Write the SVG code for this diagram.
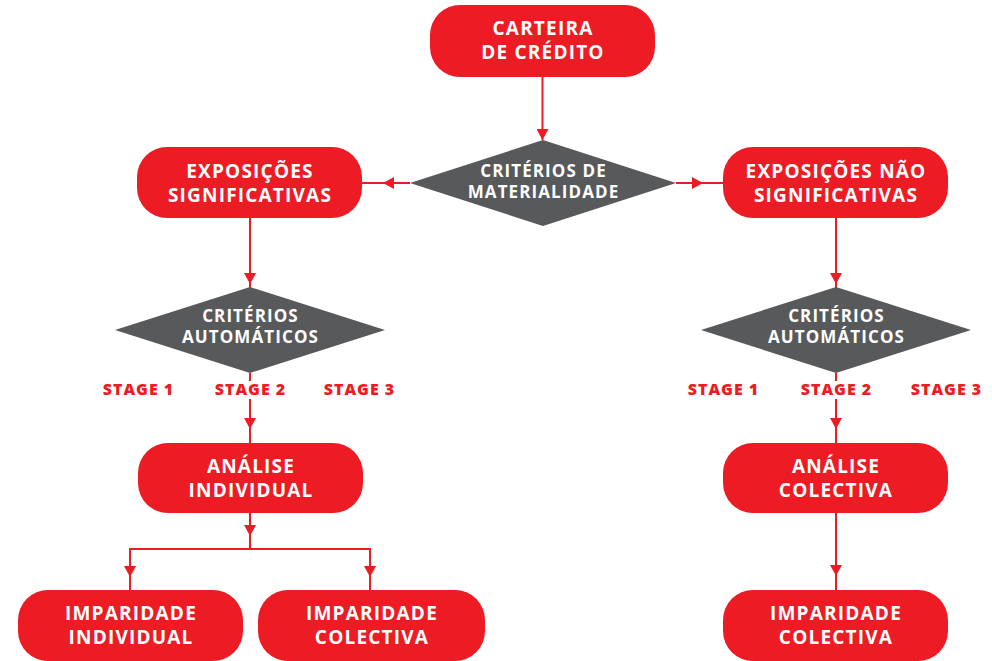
<svg xmlns="http://www.w3.org/2000/svg" width="992" height="661" viewBox="0 0 992 661">
<defs>
<style>
.box{fill:#ED1C24}
.dia{fill:#58595B}
.t{font-family:"Open Sans","Liberation Sans",sans-serif;font-weight:700;font-size:19px;letter-spacing:1.2px;fill:#fff;text-anchor:middle}
.td{font-family:"Open Sans","Liberation Sans",sans-serif;font-weight:700;font-size:17px;letter-spacing:1.1px;fill:#fff;text-anchor:middle}
.st{font-family:"Open Sans","Liberation Sans",sans-serif;font-weight:800;font-size:16px;letter-spacing:1px;fill:#ED1C24;text-anchor:middle}
.c{fill:none;stroke:#ED1C24;stroke-width:2}
.a{marker-mid:url(#ah)}
.e{marker-end:url(#ah)}
</style>
<marker id="ah" viewBox="0 0 11 12" refX="11" refY="6" markerWidth="11" markerHeight="12" markerUnits="userSpaceOnUse" orient="auto">
<path d="M0,0 L11,6 L0,12 z" fill="#ED1C24"/>
</marker>
</defs>
<rect width="992" height="661" fill="#fff"/>
<g id="connectors">
<path class="c e" d="M542.5,77 L542.5,140"/>
<path class="c a" d="M410,183 L383,183 L362,183"/>
<path class="c a" d="M676,183 L703,183 L723,183"/>
<path class="c a" d="M250,218 L250,284 L250,288"/>
<path class="c a" d="M836,218 L836,284 L836,288"/>
<path class="c" d="M250,373 V381"/>
<path class="c a" d="M250,399 L250,429 L250,443"/>
<path class="c" d="M836,373 V381"/>
<path class="c a" d="M836,399 L836,429 L836,443"/>
<path class="c a" d="M250,513 L250,536 L250,549"/>
<path class="c" d="M130,549 H370"/>
<path class="c a" d="M130,548 L130,577 L130,590"/>
<path class="c a" d="M370,548 L370,577 L370,590"/>
<path class="c a" d="M836,513 L836,576 L836,590"/>
</g>
<g id="carteira">
<rect class="box" x="430" y="5" width="225" height="72" rx="30"/>
<text class="t" x="543" y="35">CARTEIRA</text>
<text class="t" x="543" y="59">DE CRÉDITO</text>
</g>
<g id="materialidade">
<polygon class="dia" points="543,140 676,183 543,226 410,183"/>
<text class="td" x="543.5" y="177">CRITÉRIOS DE</text>
<text class="td" x="543.5" y="198">MATERIALIDADE</text>
</g>
<g id="exp-sig">
<rect class="box" x="137" y="147" width="225" height="71" rx="30"/>
<text class="t" x="250" y="178">EXPOSIÇÕES</text>
<text class="t" x="250" y="202">SIGNIFICATIVAS</text>
</g>
<g id="exp-nao-sig">
<rect class="box" x="723" y="147" width="225" height="71" rx="30"/>
<text class="t" x="836" y="178">EXPOSIÇÕES NÃO</text>
<text class="t" x="836" y="202">SIGNIFICATIVAS</text>
</g>
<g id="auto-left">
<polygon class="dia" points="250,287 385,330 250,373 115,330"/>
<text class="td" x="250.5" y="322">CRITÉRIOS</text>
<text class="td" x="250.5" y="343">AUTOMÁTICOS</text>
</g>
<g id="auto-right">
<polygon class="dia" points="836,287 971,330 836,373 701,330"/>
<text class="td" x="836.5" y="322">CRITÉRIOS</text>
<text class="td" x="836.5" y="343">AUTOMÁTICOS</text>
</g>
<g id="stages-left">
<text class="st" x="138.5" y="395">STAGE 1</text>
<text class="st" x="250.5" y="395">STAGE 2</text>
<text class="st" x="359.5" y="395">STAGE 3</text>
</g>
<g id="stages-right">
<text class="st" x="723.5" y="395">STAGE 1</text>
<text class="st" x="836.5" y="395">STAGE 2</text>
<text class="st" x="946.5" y="395">STAGE 3</text>
</g>
<g id="analise-individual">
<rect class="box" x="138" y="443" width="225" height="70" rx="30"/>
<text class="t" x="251" y="473">ANÁLISE</text>
<text class="t" x="251" y="497">INDIVIDUAL</text>
</g>
<g id="analise-colectiva">
<rect class="box" x="723" y="443" width="225" height="70" rx="30"/>
<text class="t" x="836" y="473">ANÁLISE</text>
<text class="t" x="836" y="497">COLECTIVA</text>
</g>
<g id="imparidade-individual">
<rect class="box" x="18" y="590" width="225" height="71" rx="30"/>
<text class="t" x="131" y="620">IMPARIDADE</text>
<text class="t" x="131" y="644">INDIVIDUAL</text>
</g>
<g id="imparidade-colectiva-left">
<rect class="box" x="258" y="590" width="227" height="71" rx="30"/>
<text class="t" x="372" y="620">IMPARIDADE</text>
<text class="t" x="372" y="644">COLECTIVA</text>
</g>
<g id="imparidade-colectiva-right">
<rect class="box" x="723" y="590" width="225" height="71" rx="30"/>
<text class="t" x="836" y="620">IMPARIDADE</text>
<text class="t" x="836" y="644">COLECTIVA</text>
</g>
</svg>
